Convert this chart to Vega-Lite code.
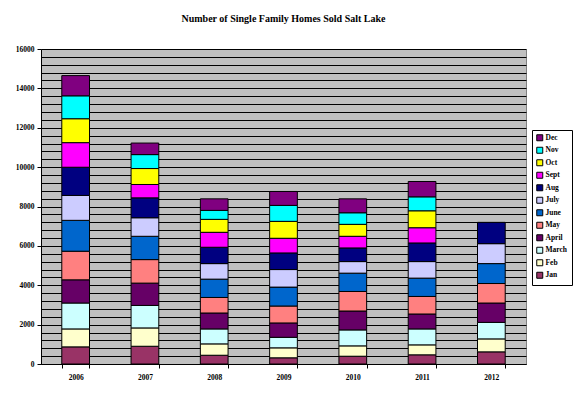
{
  "$schema": "https://vega.github.io/schema/vega-lite/v6.json",
  "width": 485,
  "height": 315,
  "autosize": {"type": "none"},
  "padding": {"left": 41, "top": 49, "right": 51, "bottom": 30},
  "background": "white",
  "title": {
    "text": "Number of Single Family Homes Sold Salt Lake",
    "font": "Liberation Serif",
    "fontSize": 10,
    "fontWeight": "bold",
    "color": "black",
    "anchor": "middle",
    "baseline": "alphabetic",
    "offset": 13
  },
  "config": {
    "view": {"fill": "#C0C0C0", "stroke": "#808080", "strokeWidth": 1},
    "axis": {"labelFont": "Liberation Serif", "labelFontWeight": "bold", "labelFontSize": 7.5, "labelColor": "black"}
  },
  "data": {
    "values": [
      {"year": "2006", "month": "Jan", "m": 1, "homes": 870},
      {"year": "2006", "month": "Feb", "m": 2, "homes": 911},
      {"year": "2006", "month": "March", "m": 3, "homes": 1316},
      {"year": "2006", "month": "April", "m": 4, "homes": 1179},
      {"year": "2006", "month": "May", "m": 5, "homes": 1452},
      {"year": "2006", "month": "June", "m": 6, "homes": 1569},
      {"year": "2006", "month": "July", "m": 7, "homes": 1265},
      {"year": "2006", "month": "Aug", "m": 8, "homes": 1432},
      {"year": "2006", "month": "Sept", "m": 9, "homes": 1249},
      {"year": "2006", "month": "Oct", "m": 10, "homes": 1215},
      {"year": "2006", "month": "Nov", "m": 11, "homes": 1164},
      {"year": "2006", "month": "Dec", "m": 12, "homes": 1027},
      {"year": "2007", "month": "Jan", "m": 1, "homes": 901},
      {"year": "2007", "month": "Feb", "m": 2, "homes": 931},
      {"year": "2007", "month": "March", "m": 3, "homes": 1143},
      {"year": "2007", "month": "April", "m": 4, "homes": 1134},
      {"year": "2007", "month": "May", "m": 5, "homes": 1194},
      {"year": "2007", "month": "June", "m": 6, "homes": 1184},
      {"year": "2007", "month": "July", "m": 7, "homes": 941},
      {"year": "2007", "month": "Aug", "m": 8, "homes": 1012},
      {"year": "2007", "month": "Sept", "m": 9, "homes": 678},
      {"year": "2007", "month": "Oct", "m": 10, "homes": 810},
      {"year": "2007", "month": "Nov", "m": 11, "homes": 708},
      {"year": "2007", "month": "Dec", "m": 12, "homes": 587},
      {"year": "2008", "month": "Jan", "m": 1, "homes": 445},
      {"year": "2008", "month": "Feb", "m": 2, "homes": 577},
      {"year": "2008", "month": "March", "m": 3, "homes": 759},
      {"year": "2008", "month": "April", "m": 4, "homes": 810},
      {"year": "2008", "month": "May", "m": 5, "homes": 789},
      {"year": "2008", "month": "June", "m": 6, "homes": 931},
      {"year": "2008", "month": "July", "m": 7, "homes": 789},
      {"year": "2008", "month": "Aug", "m": 8, "homes": 830},
      {"year": "2008", "month": "Sept", "m": 9, "homes": 759},
      {"year": "2008", "month": "Oct", "m": 10, "homes": 658},
      {"year": "2008", "month": "Nov", "m": 11, "homes": 456},
      {"year": "2008", "month": "Dec", "m": 12, "homes": 586},
      {"year": "2009", "month": "Jan", "m": 1, "homes": 314},
      {"year": "2009", "month": "Feb", "m": 2, "homes": 506},
      {"year": "2009", "month": "March", "m": 3, "homes": 536},
      {"year": "2009", "month": "April", "m": 4, "homes": 729},
      {"year": "2009", "month": "May", "m": 5, "homes": 860},
      {"year": "2009", "month": "June", "m": 6, "homes": 961},
      {"year": "2009", "month": "July", "m": 7, "homes": 891},
      {"year": "2009", "month": "Aug", "m": 8, "homes": 845},
      {"year": "2009", "month": "Sept", "m": 9, "homes": 744},
      {"year": "2009", "month": "Oct", "m": 10, "homes": 860},
      {"year": "2009", "month": "Nov", "m": 11, "homes": 810},
      {"year": "2009", "month": "Dec", "m": 12, "homes": 708},
      {"year": "2010", "month": "Jan", "m": 1, "homes": 395},
      {"year": "2010", "month": "Feb", "m": 2, "homes": 526},
      {"year": "2010", "month": "March", "m": 3, "homes": 810},
      {"year": "2010", "month": "April", "m": 4, "homes": 961},
      {"year": "2010", "month": "May", "m": 5, "homes": 992},
      {"year": "2010", "month": "June", "m": 6, "homes": 931},
      {"year": "2010", "month": "July", "m": 7, "homes": 587},
      {"year": "2010", "month": "Aug", "m": 8, "homes": 693},
      {"year": "2010", "month": "Sept", "m": 9, "homes": 592},
      {"year": "2010", "month": "Oct", "m": 10, "homes": 607},
      {"year": "2010", "month": "Nov", "m": 11, "homes": 587},
      {"year": "2010", "month": "Dec", "m": 12, "homes": 708},
      {"year": "2011", "month": "Jan", "m": 1, "homes": 466},
      {"year": "2011", "month": "Feb", "m": 2, "homes": 506},
      {"year": "2011", "month": "March", "m": 3, "homes": 809},
      {"year": "2011", "month": "April", "m": 4, "homes": 759},
      {"year": "2011", "month": "May", "m": 5, "homes": 891},
      {"year": "2011", "month": "June", "m": 6, "homes": 931},
      {"year": "2011", "month": "July", "m": 7, "homes": 840},
      {"year": "2011", "month": "Aug", "m": 8, "homes": 946},
      {"year": "2011", "month": "Sept", "m": 9, "homes": 774},
      {"year": "2011", "month": "Oct", "m": 10, "homes": 860},
      {"year": "2011", "month": "Nov", "m": 11, "homes": 709},
      {"year": "2011", "month": "Dec", "m": 12, "homes": 779},
      {"year": "2012", "month": "Jan", "m": 1, "homes": 617},
      {"year": "2012", "month": "Feb", "m": 2, "homes": 658},
      {"year": "2012", "month": "March", "m": 3, "homes": 840},
      {"year": "2012", "month": "April", "m": 4, "homes": 982},
      {"year": "2012", "month": "May", "m": 5, "homes": 991},
      {"year": "2012", "month": "June", "m": 6, "homes": 1012},
      {"year": "2012", "month": "July", "m": 7, "homes": 1012},
      {"year": "2012", "month": "Aug", "m": 8, "homes": 1083}
    ]
  },
  "mark": {"type": "bar", "stroke": "black", "strokeWidth": 1},
  "encoding": {
    "x": {
      "field": "year",
      "type": "nominal",
      "scale": {"paddingInner": 0.6, "paddingOuter": 0.3},
      "axis": {
        "title": null,
        "labelAngle": 0,
        "labelPadding": 5,
        "domainColor": "black",
        "tickColor": "black",
        "tickSize": 4,
        "tickBand": "extent",
        "grid": false
      }
    },
    "y": {
      "field": "homes",
      "type": "quantitative",
      "stack": "zero",
      "scale": {"domain": [0, 16000], "nice": false, "zero": true},
      "axis": {
        "title": null,
        "values": [0, 400, 800, 1200, 1600, 2000, 2400, 2800, 3200, 3600, 4000, 4400, 4800, 5200, 5600, 6000, 6400, 6800, 7200, 7600, 8000, 8400, 8800, 9200, 9600, 10000, 10400, 10800, 11200, 11600, 12000, 12400, 12800, 13200, 13600, 14000, 14400, 14800, 15200, 15600, 16000],
        "labelExpr": "datum.value % 2000 === 0 ? datum.value : ''",
        "grid": true,
        "gridColor": "black",
        "gridOpacity": 1,
        "gridWidth": 1,
        "domainColor": "black",
        "tickColor": "black",
        "tickSize": 4,
        "tickOpacity": {"condition": {"test": "datum.value % 2000 === 0", "value": 1}, "value": 0},
        "labelPadding": 3,
        "labelOverlap": false
      }
    },
    "color": {
      "field": "month",
      "type": "nominal",
      "scale": {
        "domain": ["Dec", "Nov", "Oct", "Sept", "Aug", "July", "June", "May", "April", "March", "Feb", "Jan"],
        "range": ["#800080", "#00FFFF", "#FFFF00", "#FF00FF", "#000080", "#CCCCFF", "#0066CC", "#FF8080", "#660066", "#CCFFFF", "#FFFFCC", "#993366"]
      },
      "legend": {
        "title": null,
        "orient": "none",
        "legendX": 491,
        "legendY": 81,
        "fillColor": "white",
        "strokeColor": "black",
        "padding": 4,
        "symbolType": "square",
        "symbolSize": 36,
        "symbolStrokeColor": "black",
        "symbolStrokeWidth": 1,
        "symbolOpacity": 1,
        "labelFont": "Liberation Serif",
        "labelFontWeight": "bold",
        "labelFontSize": 7.5,
        "labelColor": "black",
        "labelOffset": 2,
        "rowPadding": 1.5
      }
    },
    "order": {"field": "m", "type": "quantitative", "sort": "ascending"}
  }
}
